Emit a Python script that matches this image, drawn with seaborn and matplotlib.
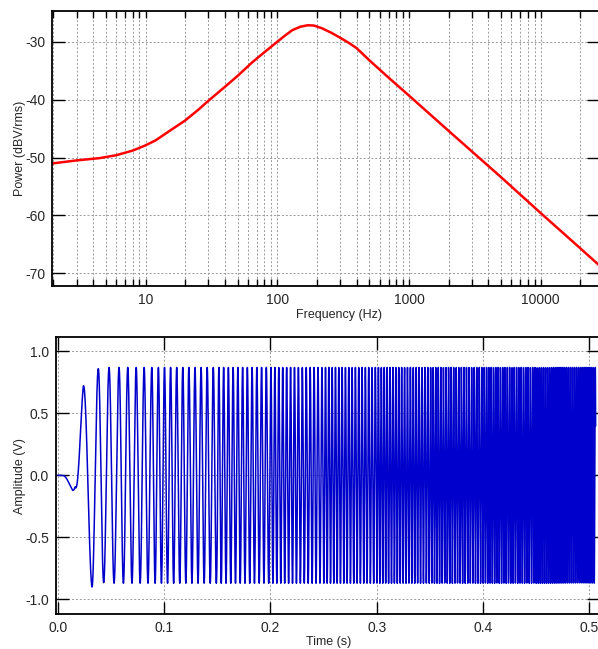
import numpy as np
import pandas as pd
import matplotlib
matplotlib.use("Agg")
import matplotlib.pyplot as plt
import seaborn as sns
from matplotlib.ticker import FixedLocator, LogLocator, NullFormatter, FuncFormatter

# ---- spectrum (top panel) ----
spec_freq = [1.95, 2.0, 3.0, 4.5, 6.0, 8.0, 10, 12, 15, 20, 25, 30, 40, 50, 65, 78,
             100, 115, 130, 150, 170, 190, 220, 260, 300, 350, 400, 450, 500, 700,
             1000, 2000, 5000, 10000, 20000, 30000]
spec_power = [-51.0, -51.0, -50.5, -50.1, -49.6, -48.8, -47.9, -47.0, -45.5, -43.6,
              -41.8, -40.2, -37.8, -35.9, -33.5, -32.0, -30.0, -28.9, -28.0, -27.4,
              -27.15, -27.2, -27.7, -28.5, -29.3, -30.2, -31.1, -32.2, -33.2, -36.2,
              -39.3, -45.4, -53.4, -59.6, -65.7, -69.3]
freq_ticks = [10, 100, 1000, 10000]
power_ticks = [-70, -60, -50, -40, -30]

# ---- sweep waveform (bottom panel) ----
# phase of the sweep in cycles at given times (crests at whole numbers, troughs at halves)
sweep_t = [0.0, 0.006, 0.0140, 0.0241, 0.0323, 0.0382, 0.0483, 0.0577, 0.0659,
           0.0738, 0.0813, 0.0885, 0.0947, 0.15, 0.20, 0.25, 0.30, 0.35, 0.40,
           0.45, 0.506]
sweep_cycles = [0.2, 0.3, 0.5, 1.0, 1.5, 2.0, 3.0, 4.0, 5.0, 6.0, 7.0, 8.0, 9.0,
                18.64, 29.85, 43.4, 59.4, 77.7, 98.45, 121.5, 150.2]
# amplitude envelope of the sweep
env_t = [0.0, 0.006, 0.014, 0.0165, 0.0241, 0.0323, 0.0382, 0.0483, 0.506]
env_amp = [0.0, 0.01, 0.12, 0.13, 0.72, 0.90, 0.86, 0.87, 0.87]
sample_rate = 20000
time_ticks = [0.0, 0.1, 0.2, 0.3, 0.4, 0.5]
amp_ticks = [-1.0, -0.5, 0.0, 0.5, 1.0]

t = np.arange(0.0, sweep_t[-1], 1.0 / sample_rate)
cycles = np.interp(t, sweep_t, sweep_cycles)
amp = np.interp(t, env_t, env_amp)
wave = pd.DataFrame({"time": t, "volts": amp * np.cos(2 * np.pi * cycles)})
spec = pd.DataFrame({"freq": spec_freq, "power": spec_power})

sns.set_theme(style="white")
plt.rcParams["font.family"] = ["Liberation Sans", "DejaVu Sans"]
plt.rcParams["axes.unicode_minus"] = False

W, H = 598, 649
fig = plt.figure(figsize=(W / 100, H / 100), dpi=100)
fig.patch.set_facecolor("white")

ax1 = fig.add_axes([52 / W, 1 - 286 / H, (599 - 52) / W, (286 - 10.5) / H])
ax2 = fig.add_axes([56 / W, 1 - 614 / H, (599 - 56) / W, (614 - 337.3) / H])

grid_kw = dict(color="#9a9a9a", linewidth=0.7, linestyle=(0, (2, 2)))

# top: power spectrum
ax1.set_xscale("log")
sns.lineplot(data=spec, x="freq", y="power", ax=ax1, color="#FF0000",
             linewidth=1.8, estimator=None, sort=False)
ax1.set_xlim(1.95, 27700)
ax1.set_ylim(-72.2, -24.6)
ax1.xaxis.set_major_locator(FixedLocator(freq_ticks))
ax1.xaxis.set_major_formatter(FuncFormatter(lambda v, p: f"{v:g}"))
ax1.xaxis.set_minor_locator(LogLocator(base=10, subs=np.arange(2, 10), numticks=20))
ax1.xaxis.set_minor_formatter(NullFormatter())
ax1.yaxis.set_major_locator(FixedLocator(power_ticks))
ax1.yaxis.set_major_formatter(FuncFormatter(lambda v, p: f"{v:.0f}"))
ax1.grid(True, which="both", axis="x", **grid_kw)
ax1.grid(True, which="major", axis="y", **grid_kw)
ax1.tick_params(axis="x", which="both", direction="in", top=True, bottom=True,
                length=5, width=1.0, color="black", labelsize=10, pad=5)
ax1.tick_params(axis="y", which="major", direction="in", left=True, right=True,
                length=9, width=1.0, color="black", labelsize=10, pad=5)
ax1.set_xlabel("Frequency (Hz)", fontsize=9)
ax1.set_ylabel("Power (dBV/rms)", fontsize=9)
ax1.xaxis.set_label_coords((339.5 - 52) / 547, -(315 - 286) / 275.5)
ax1.xaxis.label.set_verticalalignment("center")
ax1.yaxis.set_label_coords((20 - 52) / 547, 0.5)
ax1.yaxis.label.set_verticalalignment("center")
ax1.yaxis.label.set_horizontalalignment("center")

# bottom: time-domain sweep
sns.lineplot(data=wave, x="time", y="volts", ax=ax2, color="#0000CC",
             linewidth=1.1, estimator=None, sort=False)
ax2.set_xlim(-0.0016, 0.5091)
ax2.set_ylim(-1.118, 1.113)
ax2.xaxis.set_major_locator(FixedLocator(time_ticks))
ax2.xaxis.set_major_formatter(FuncFormatter(lambda v, p: f"{v:.1f}"))
ax2.yaxis.set_major_locator(FixedLocator(amp_ticks))
ax2.yaxis.set_major_formatter(FuncFormatter(lambda v, p: f"{v:.1f}"))
ax2.grid(True, which="major", **grid_kw)
ax2.tick_params(axis="both", which="major", direction="in", top=True, bottom=True,
                left=True, right=True, length=9, width=1.0, color="black",
                labelsize=10, pad=5)
ax2.set_xlabel("Time (s)", fontsize=9)
ax2.set_ylabel("Amplitude (V)", fontsize=9)
ax2.xaxis.set_label_coords((329 - 56) / 543, -(642 - 614) / 276.7)
ax2.xaxis.label.set_verticalalignment("center")
ax2.yaxis.set_label_coords((20 - 56) / 543, 0.5)
ax2.yaxis.label.set_verticalalignment("center")
ax2.yaxis.label.set_horizontalalignment("center")

for ax in (ax1, ax2):
    ax.set_facecolor("white")
    ax.set_axisbelow(True)
    for s in ax.spines.values():
        s.set_visible(True)
        s.set_color("black")
        s.set_linewidth(1.3)

fig.savefig("out.png", dpi=100, facecolor="white")
